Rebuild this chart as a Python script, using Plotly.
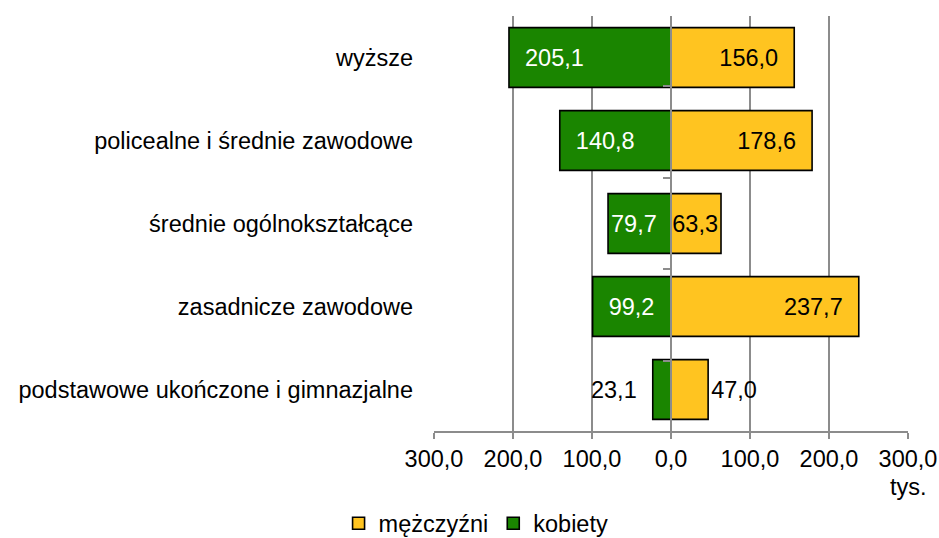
import plotly.graph_objects as go

categories = ["wyższe", "policealne i średnie zawodowe", "średnie ogólnokształcące",
              "zasadnicze zawodowe", "podstawowe ukończone i gimnazjalne"]
men = [156.0, 178.6, 63.3, 237.7, 47.0]
women = [205.1, 140.8, 79.7, 99.2, 23.1]
tick_values = [-300, -200, -100, 0, 100, 200, 300]

FONT = "Liberation Sans, Arial, sans-serif"
FS = 23.5
GREEN = "#1a8500"
YELLOW = "#ffc420"
GRID = "#8c8c8c"
NB = "\u00a0"


def fmt(v):
    return f"{v:.1f}".replace(".", ",")


men_pos = ["inside" if v > 55 else "outside" for v in men]
women_pos = ["inside" if v > 55 else "outside" for v in women]
men_text = [fmt(v) + (NB * 2 if v >= 90 else "") for v in men]
women_text = [(NB * 2 if v >= 90 else "") + fmt(v) + (NB * 2 if v < 55 else "") for v in women]

fig = go.Figure()
fig.add_trace(go.Bar(
    y=categories, x=men, orientation="h", name="mężczyźni",
    marker=dict(color=YELLOW, line=dict(color="black", width=1.6)),
    text=men_text, textposition=men_pos, insidetextanchor="end", textangle=0,
    insidetextfont=dict(color="black", size=FS, family=FONT),
    outsidetextfont=dict(color="black", size=FS, family=FONT),
    constraintext="none", cliponaxis=False, hoverinfo="skip",
))
fig.add_trace(go.Bar(
    y=categories, x=[-v for v in women], orientation="h", name="kobiety",
    marker=dict(color=GREEN, line=dict(color="black", width=1.6)),
    text=women_text, textposition=women_pos, insidetextanchor="end", textangle=0,
    insidetextfont=dict(color="white", size=FS, family=FONT),
    outsidetextfont=dict(color="black", size=FS, family=FONT),
    constraintext="none", cliponaxis=False, hoverinfo="skip",
))
# invisible helper trace to draw the category axis line at zero
fig.add_trace(go.Scatter(
    y=categories, x=[0] * len(categories), yaxis="y2", mode="markers",
    marker=dict(opacity=0), showlegend=False, hoverinfo="skip",
))

fig.update_layout(
    width=939, height=538,
    margin=dict(l=434, r=31, t=16, b=107),
    paper_bgcolor="white", plot_bgcolor="white",
    barmode="relative", bargap=0.28,
    font=dict(family=FONT, size=FS, color="black"),
    xaxis=dict(
        range=[-300, 300], tickvals=tick_values,
        ticktext=[fmt(abs(v)) for v in tick_values],
        showgrid=True, gridcolor=GRID, gridwidth=1.5,
        zeroline=False, showline=True, linecolor=GRID, linewidth=1.5,
        ticks="outside", ticklen=6, tickcolor=GRID, tickwidth=1.5,
        tickangle=0, automargin=False,
        tickfont=dict(size=FS, family=FONT, color="black"),
    ),
    yaxis=dict(
        autorange="reversed", showgrid=False, zeroline=False, showline=False,
        ticks="", ticklabelstandoff=20, automargin=False,
        tickfont=dict(size=FS, family=FONT, color="black"),
    ),
    yaxis2=dict(
        overlaying="y", anchor="free", position=0.5, side="left",
        autorange="reversed", showgrid=False, zeroline=False,
        showline=True, linecolor=GRID, linewidth=1.5,
        ticks="outside", ticklen=7, tickcolor=GRID, tickwidth=1.5,
        tickson="boundaries", showticklabels=False, automargin=False,
    ),
    legend=dict(
        orientation="h", xref="container", yref="container",
        x=0.507, xanchor="center", y=0.027, yanchor="middle",
        traceorder="normal", font=dict(size=FS, family=FONT), itemwidth=30,
    ),
    annotations=[dict(
        text="tys.", xref="paper", yref="paper", x=1.0, y=-0.135,
        xanchor="center", yanchor="middle", showarrow=False,
        font=dict(size=FS, family=FONT, color="black"),
    )],
)

fig.write_html("out.html", config={"displayModeBar": False},
               post_script="document.body.style.margin='0';")
